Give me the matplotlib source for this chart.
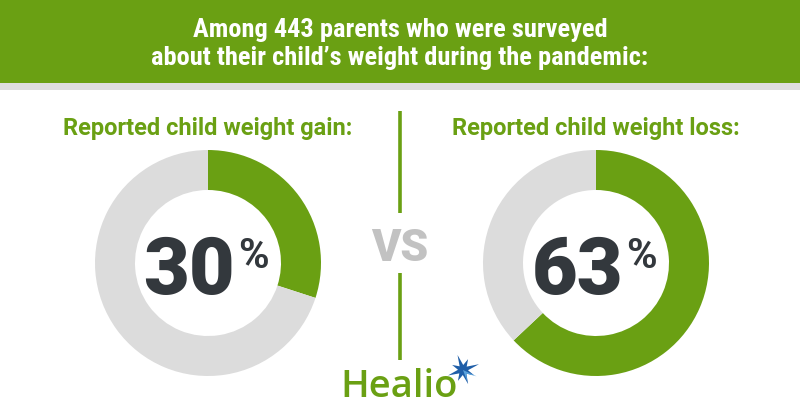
import matplotlib
matplotlib.use("Agg")
import matplotlib.pyplot as plt
from matplotlib.patches import Rectangle, Polygon
import numpy as np

# ---- data ----
title_lines = ["Among 443 parents who were surveyed",
               "about their child\u2019s weight during the pandemic:"]
categories = ["Reported child weight gain:", "Reported child weight loss:"]
percent_values = [30, 63]
brand = "Healio"

# ---- style ----
GREEN = "#6aa013"
GRAY_RING = "#dcdcdc"
STRIP = "#dedede"
DARK = "#33383d"
VS_GRAY = "#c2c2c2"
BLUE = "#1f5ea8"
LIGHT_BLUE = "#5aa2dc"
W, H = 800, 420

COND = ["Roboto Condensed", "Open Sans Condensed", "IBM Plex Sans Condensed", "DejaVu Sans"]
SANS = ["Roboto", "DejaVu Sans"]
LOGO = ["Open Sans", "DejaVu Sans"]

fig = plt.figure(figsize=(W / 100, H / 100), dpi=100)
fig.patch.set_facecolor("white")

bg = fig.add_axes([0, 0, 1, 1])
bg.set_xlim(0, W)
bg.set_ylim(H, 0)
bg.axis("off")

# header band
bg.add_patch(Rectangle((0, 0), W, 83, facecolor=GREEN, edgecolor="none"))
bg.add_patch(Rectangle((0, 83), W, 7, facecolor=STRIP, edgecolor="none"))
bg.text(W / 2, 37, title_lines[0], ha="center", va="baseline", color="white",
        fontsize=19, fontweight="bold", family=COND)
bg.text(W / 2, 65, title_lines[1], ha="center", va="baseline", color="white",
        fontsize=19, fontweight="bold", family=COND)

# divider and VS
bg.plot([400, 400], [111, 213], color=GREEN, lw=2.6, solid_capstyle="butt")
bg.plot([400, 400], [273, 360], color=GREEN, lw=2.6, solid_capstyle="butt")
bg.text(400, 261, "VS", ha="center", va="baseline", color=VS_GRAY,
        fontsize=32, fontweight="black", family=SANS)

# donuts
centers = [(208, 263), (596, 263)]
R = 113
for (cx, cy), cat, val in zip(centers, categories, percent_values):
    bg.text(cx, 134.5, cat, ha="center", va="baseline", color=GREEN,
            fontsize=17, fontweight="bold", family=SANS)
    ax = fig.add_axes([(cx - R) / W, 1 - (cy + R) / H, 2 * R / W, 2 * R / H])
    ax.pie([val, 100 - val], colors=[GREEN, GRAY_RING], startangle=90,
           counterclock=False, radius=1.0,
           wedgeprops=dict(width=40 / 113, edgecolor="none", linewidth=0))
    ax.set_xlim(-1, 1)
    ax.set_ylim(-1, 1)
    ax.set_aspect("equal")
    ax.axis("off")
    bg.text(cx + 27, 294, f"{val}", ha="right", va="baseline", color=DARK,
            fontsize=57, fontweight="black", family=SANS)
    bg.text(cx + 30, 268, "%", ha="left", va="baseline", color=DARK,
            fontsize=30, fontweight="bold", family=SANS)

# logo
bg.text(340, 397, brand, ha="left", va="baseline", color=GREEN,
        fontsize=27.5, fontweight="semibold", family=LOGO)
# star emblem
sx, sy = 463, 370
ang = np.deg2rad(np.arange(0, 360, 45) + 20)
lengths = [17, 12, 16, 12, 16, 12, 15, 12]
pts = []
for r, a in zip(lengths, ang):
    pts.append((sx + r * np.cos(a), sy - r * np.sin(a)))
    a2 = a + np.deg2rad(22.5)
    pts.append((sx + 5 * np.cos(a2), sy - 5 * np.sin(a2)))
bg.add_patch(Polygon(pts, closed=True, facecolor=BLUE, edgecolor="none", zorder=5))
# lighter lower-right facet
a1, a2 = np.deg2rad(-25), np.deg2rad(-70)
lr = [(sx, sy), (sx + 15 * np.cos(a1), sy - 15 * np.sin(a1)),
      (sx + 5 * np.cos(np.deg2rad(-47)), sy - 5 * np.sin(np.deg2rad(-47))),
      (sx + 12 * np.cos(a2), sy - 12 * np.sin(a2))]
bg.add_patch(Polygon(lr, closed=True, facecolor=LIGHT_BLUE, edgecolor="none", zorder=6))

fig.savefig("out.png", dpi=100, facecolor="white")
